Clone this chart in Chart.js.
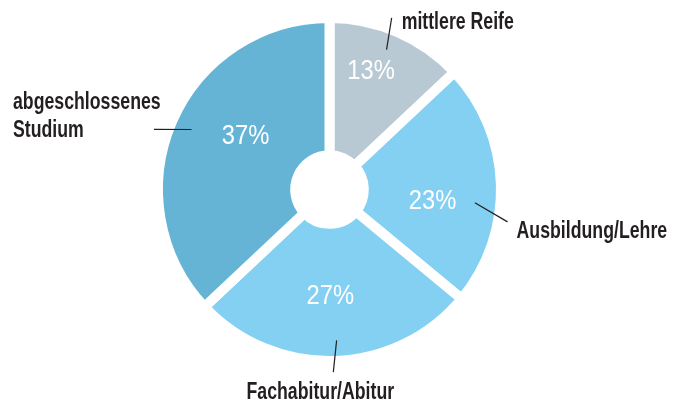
<!DOCTYPE html>
<html>
<head>
<meta charset="utf-8">
<script src="https://cdn.jsdelivr.net/npm/chart.js@4/dist/chart.umd.min.js"></script>
<style>
html,body{margin:0;padding:0;background:#ffffff;}
canvas{display:block;}
</style>
</head>
<body>
<canvas id="chart" width="680" height="403"></canvas>
<script>
// ---- data ----
const categories = ['mittlere Reife', 'Ausbildung/Lehre', 'Fachabitur/Abitur', 'abgeschlossenes Studium'];
const values = [13, 23, 27, 37];
const valueLabels = ['13%', '23%', '27%', '37%'];
const categoryLines = [['mittlere Reife'], ['Ausbildung/Lehre'], ['Fachabitur/Abitur'], ['abgeschlossenes', 'Studium']];
const sliceColors = ['#b8c9d4', '#83d0f3', '#83d0f3', '#65b4d5'];

// ---- annotation layout (angles: degrees clockwise from top; radii as fraction of outer radius) ----
const REF_R = 171.5;
const annotationLayout = [
  { pct: { a: 19.0, r: 127.4 }, line: [{ a: 22.2, r: 151 }, { a: 19.9, r: 182.6 }], text: { dx: 10, dy: 11, align: 'left' } },
  { pct: { a: 95.7, r: 103.5 }, line: [{ a: 95.2, r: 146 }, { a: 100.3, r: 181 }], text: { dx: 9, dy: 16, align: 'left' } },
  { pct: { a: 179.6, r: 104.5 }, line: [{ a: 177.3, r: 151 }, { a: 178.8, r: 182.7 }], text: { dx: -13, dy: 26.6, align: 'center' } },
  { pct: { a: 303.3, r: 100.5 }, line: [{ a: 293.5, r: 150.5 }, { a: 288.9, r: 185.5 }], text: { dx: -141, dy: -20, align: 'left' } }
];

function polar(cx, cy, outer, p) {
  const rad = p.a * Math.PI / 180;
  const r = p.r / REF_R * outer;
  return { x: cx + r * Math.sin(rad), y: cy - r * Math.cos(rad) };
}

const labelPlugin = {
  id: 'labelPlugin',
  afterDatasetsDraw(chart) {
    const ctx = chart.ctx;
    const meta = chart.getDatasetMeta(0);
    if (!meta.data.length) return;
    const arc0 = meta.data[0];
    const cx = arc0.x, cy = arc0.y, outer = arc0.outerRadius;

    meta.data.forEach((arc, i) => {
      const lay = annotationLayout[i];
      // percentage label inside slice
      const pc = polar(cx, cy, outer, lay.pct);
      const pSize = 27;
      ctx.save();
      ctx.font = `${pSize}px "Liberation Sans", Arial, sans-serif`;
      ctx.fillStyle = '#ffffff';
      ctx.textAlign = 'center';
      ctx.textBaseline = 'alphabetic';
      ctx.translate(pc.x, pc.y + 0.358 * pSize);
      ctx.scale(0.88, 1);
      ctx.fillText(valueLabels[i], 0, 0);
      ctx.restore();

      // leader line
      const a = polar(cx, cy, outer, lay.line[0]);
      const b = polar(cx, cy, outer, lay.line[1]);
      ctx.save();
      ctx.strokeStyle = '#231f20';
      ctx.lineWidth = 1.2;
      ctx.beginPath();
      ctx.moveTo(a.x, a.y);
      ctx.lineTo(b.x, b.y);
      ctx.stroke();
      ctx.restore();

      // category label
      const lines = categoryLines[i];
      const fSize = 23;
      const lineH = 28;
      lines.forEach((t, k) => {
        ctx.save();
        ctx.font = `bold ${fSize}px "Liberation Sans", Arial, sans-serif`;
        ctx.fillStyle = '#231f20';
        ctx.textAlign = lay.text.align;
        ctx.textBaseline = 'alphabetic';
        ctx.translate(b.x + lay.text.dx, b.y + lay.text.dy + k * lineH);
        ctx.scale(0.77, 1);
        ctx.fillText(t, 0, 0);
        ctx.restore();
      });
    });
  }
};

new Chart(document.getElementById('chart'), {
  type: 'doughnut',
  data: {
    labels: categories,
    datasets: [{
      data: values,
      backgroundColor: sliceColors,
      borderColor: '#ffffff',
      borderWidth: 10,
      hoverBorderWidth: 10,
      hoverOffset: 0
    }]
  },
  options: {
    responsive: false,
    animation: false,
    events: [],
    cutout: '20%',
    rotation: 0,
    layout: { padding: { top: 13, bottom: 37, left: 0, right: 21 } },
    plugins: {
      legend: { display: false },
      tooltip: { enabled: false }
    }
  },
  plugins: [labelPlugin]
});
</script>
</body>
</html>
